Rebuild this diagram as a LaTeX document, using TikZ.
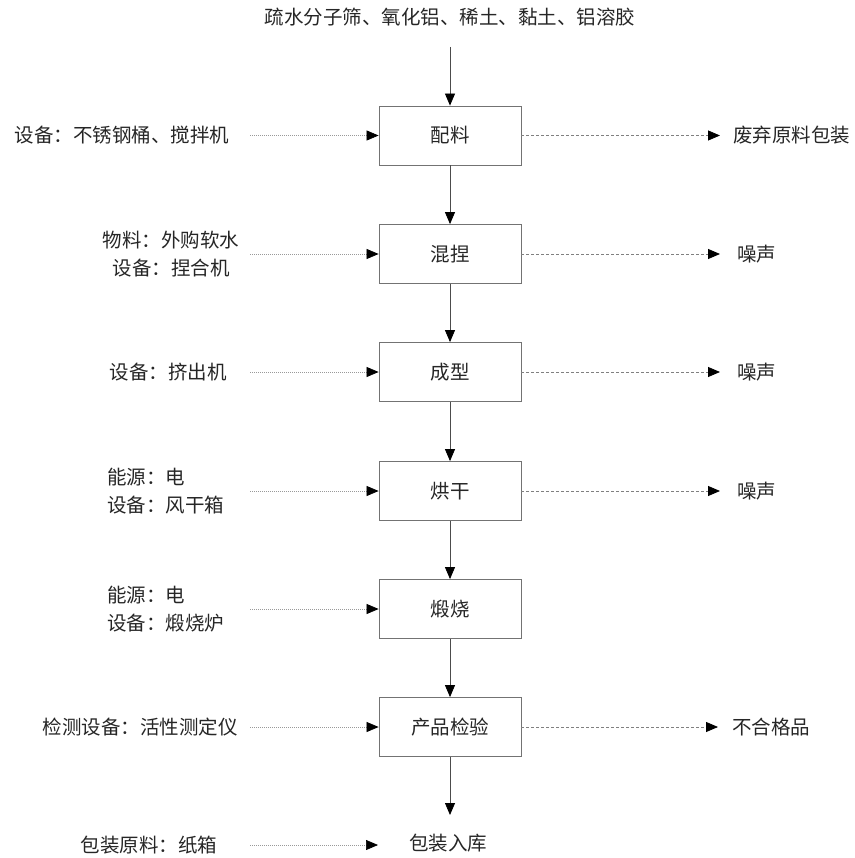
\documentclass[tikz,border=0pt]{standalone}
\usepackage{fontspec}
\setmainfont{Noto Sans CJK SC}
\usetikzlibrary{arrows.meta}
\begin{document}
\begin{tikzpicture}[x=1pt,y=-1pt,
  every node/.style={font=\fontsize{19.5}{27}\selectfont, text=black!85, inner sep=0pt},
  procbox/.style={draw=black!55, line width=0.8pt, minimum width=142pt, minimum height=59pt},
  tip/.style={-{Triangle[length=12pt,width=10pt,color=black,fill=black]}},
  flow/.style={draw=black!70, line width=0.8pt, tip},
  inflow/.style={draw=black!40, line width=0.7pt, dash pattern=on 0.8pt off 1.2pt, tip},
  outflow/.style={draw=black!50, line width=0.8pt, dash pattern=on 3pt off 2pt, tip},
  lab/.style={align=center}]
\useasboundingbox (0,0) rectangle (854,858);
% top input
\node (top) at (450,17) {疏水分子筛、氧化铝、稀土、黏土、铝溶胶};
\coordinate (topS) at (450,47);
% process boxes
\node[procbox] (b1) at (450,135.5) {配料};
\node[procbox] (b2) at (450,254) {混捏};
\node[procbox] (b3) at (450,372) {成型};
\node[procbox] (b4) at (450,491) {烘干};
\node[procbox] (b5) at (450,609) {煅烧};
\node[procbox] (b6) at (450,727) {产品检验};
\node (b7) at (448,843) {包装入库};
\coordinate (b7N) at (450,815);
% vertical flow
\draw[flow] (topS) -- (b1.north);
\draw[flow] (b1) -- (b2);
\draw[flow] (b2) -- (b3);
\draw[flow] (b3) -- (b4);
\draw[flow] (b4) -- (b5);
\draw[flow] (b5) -- (b6);
\draw[flow] (b6.south) -- (b7N);
% left inputs
\node (l1) at (122,135.5) {设备：不锈钢桶、搅拌机};
\node[lab] (l2) at (171,254) {物料：外购软水\\[1pt]设备：捏合机};
\node (l3) at (168,372) {设备：挤出机};
\node[align=left, anchor=west] (l4) at (107,491) {能源：电\\[1pt]设备：风干箱};
\node[align=left, anchor=west] (l5) at (107,609) {能源：电\\[1pt]设备：煅烧炉};
\node (l6) at (140,727) {检测设备：活性测定仪};
\node (l7) at (149,845) {包装原料：纸箱};
\coordinate (i1) at (250,135.5);
\coordinate (i2) at (250,254);
\coordinate (i3) at (250,372);
\coordinate (i4) at (250,491);
\coordinate (i5) at (250,609);
\coordinate (i6) at (250,727);
\coordinate (i7) at (250,845);
\coordinate (i7e) at (378,845);
\draw[inflow] (i1) -- (b1.west);
\draw[inflow] (i2) -- (b2.west);
\draw[inflow] (i3) -- (b3.west);
\draw[inflow] (i4) -- (b4.west);
\draw[inflow] (i5) -- (b5.west);
\draw[inflow] (i6) -- (b6.west);
\draw[inflow] (i7) -- (i7e);
% right outputs
\node[anchor=west] (r1) at (733,135.5) {废弃原料包装};
\node[anchor=west] (r2) at (737,254) {噪声};
\node[anchor=west] (r3) at (737,372) {噪声};
\node[anchor=west] (r4) at (737,491) {噪声};
\node[anchor=west] (r6) at (732,727) {不合格品};
\coordinate (o1) at (720,135.5);
\coordinate (o2) at (720,254);
\coordinate (o3) at (720,372);
\coordinate (o4) at (720,491);
\coordinate (o6) at (718,727);
\draw[outflow] (b1.east) -- (o1);
\draw[outflow] (b2.east) -- (o2);
\draw[outflow] (b3.east) -- (o3);
\draw[outflow] (b4.east) -- (o4);
\draw[outflow] (b6.east) -- (o6);
\end{tikzpicture}
\end{document}
